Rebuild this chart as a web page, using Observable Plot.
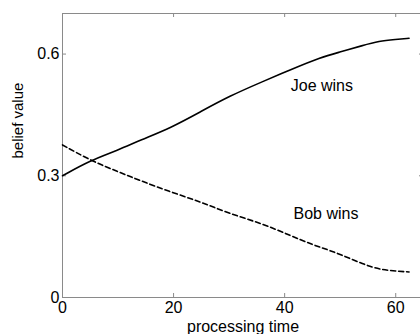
<!DOCTYPE html>
<html>
<head>
<meta charset="utf-8">
<script src="https://cdn.jsdelivr.net/npm/d3@7"></script>
<script src="https://cdn.jsdelivr.net/npm/@observablehq/plot@0.6"></script>
<style>
  html, body { margin: 0; padding: 0; background: #fff; }
  #chart svg { display: block; font-family: "Liberation Sans", Arial, sans-serif; }
</style>
</head>
<body>
<div id="chart"></div>
<script>
// Data
const time = [0, 5, 10, 14, 19.5, 25, 30, 36, 41, 46.5, 50, 54, 57, 60, 62.4];
const joeWins = [0.300, 0.338, 0.363, 0.388, 0.418, 0.459, 0.496, 0.532, 0.561, 0.592, 0.605, 0.621, 0.632, 0.636, 0.639];
const bobTime = [0, 5, 10, 14, 19.5, 25, 30, 36, 41, 45, 48, 52, 56, 59, 62.4];
const bobWins = [0.376, 0.338, 0.310, 0.288, 0.260, 0.235, 0.207, 0.182, 0.153, 0.130, 0.117, 0.095, 0.072, 0.066, 0.063];
const xTicks = [0, 20, 40, 60];
const yTicks = [0, 0.3, 0.6];
const xLabel = "processing time";
const yLabel = "belief value";
const seriesLabels = [
  {name: "Joe wins", t: 41.1, v: 0.521},
  {name: "Bob wins", t: 41.6, v: 0.205}
];

const joe = time.map((t, i) => ({t, v: joeWins[i]}));
const bob = bobTime.map((t, i) => ({t, v: bobWins[i]}));

const axisColor = "#8a8a8a";
const xDomain = [0, 65];
const yDomain = [0, 0.7];
const tickLen = 4; // px
const W = 420, H = 334, mL = 62, mR = -3, mT = 13, mB = 37;
// tick length expressed in data units
const tx = tickLen * (xDomain[1] - xDomain[0]) / (W - mL - mR);
const ty = tickLen * (yDomain[1] - yDomain[0]) / (H - mT - mB);

const chart = Plot.plot({
  width: W,
  height: H,
  marginLeft: mL,
  marginRight: mR,
  marginTop: mT,
  marginBottom: mB,
  style: {background: "#fff", color: "#000", fontSize: "16px"},
  x: {domain: xDomain},
  y: {domain: yDomain},
  marks: [
    Plot.frame({stroke: axisColor, strokeWidth: 1}),
    // inward tick marks
    Plot.ruleX(xTicks.slice(1), {x: d => d, y1: yDomain[0], y2: yDomain[0] + ty, stroke: axisColor}),
    Plot.ruleX(xTicks.slice(1), {x: d => d, y1: yDomain[1] - ty, y2: yDomain[1], stroke: axisColor}),
    Plot.ruleY(yTicks.slice(1), {y: d => d, x1: xDomain[0], x2: xDomain[0] + tx, stroke: axisColor}),
    Plot.ruleY(yTicks.slice(1), {y: d => d, x1: xDomain[1] - tx, x2: xDomain[1], stroke: axisColor}),
    // tick labels
    Plot.axisX(xTicks, {anchor: "bottom", tickSize: 0, tickPadding: 4, fontSize: 16, label: null, tickFormat: d => String(d), fill: "#000"}),
    Plot.axisY(yTicks, {anchor: "left", tickSize: 0, tickPadding: 3, fontSize: 16, label: null, tickFormat: d => String(d), fill: "#000"}),
    // axis titles
    Plot.text([xLabel], {frameAnchor: "bottom", dy: 29, fontSize: 16, lineAnchor: "middle", fill: "#000"}),
    Plot.text([yLabel], {frameAnchor: "left", dx: -44, dy: 3, rotate: -90, fontSize: 15, lineAnchor: "middle", fill: "#000"}),
    // series
    Plot.line(joe, {x: "t", y: "v", stroke: "#000", strokeWidth: 1.6, curve: "basis"}),
    Plot.line(bob, {x: "t", y: "v", stroke: "#000", strokeWidth: 1.6, strokeDasharray: "5,3", curve: "basis"}),
    Plot.text(seriesLabels, {x: "t", y: "v", text: "name", textAnchor: "start", fontSize: 16, fill: "#000"})
  ]
});
document.getElementById("chart").appendChild(chart);
</script>
</body>
</html>
